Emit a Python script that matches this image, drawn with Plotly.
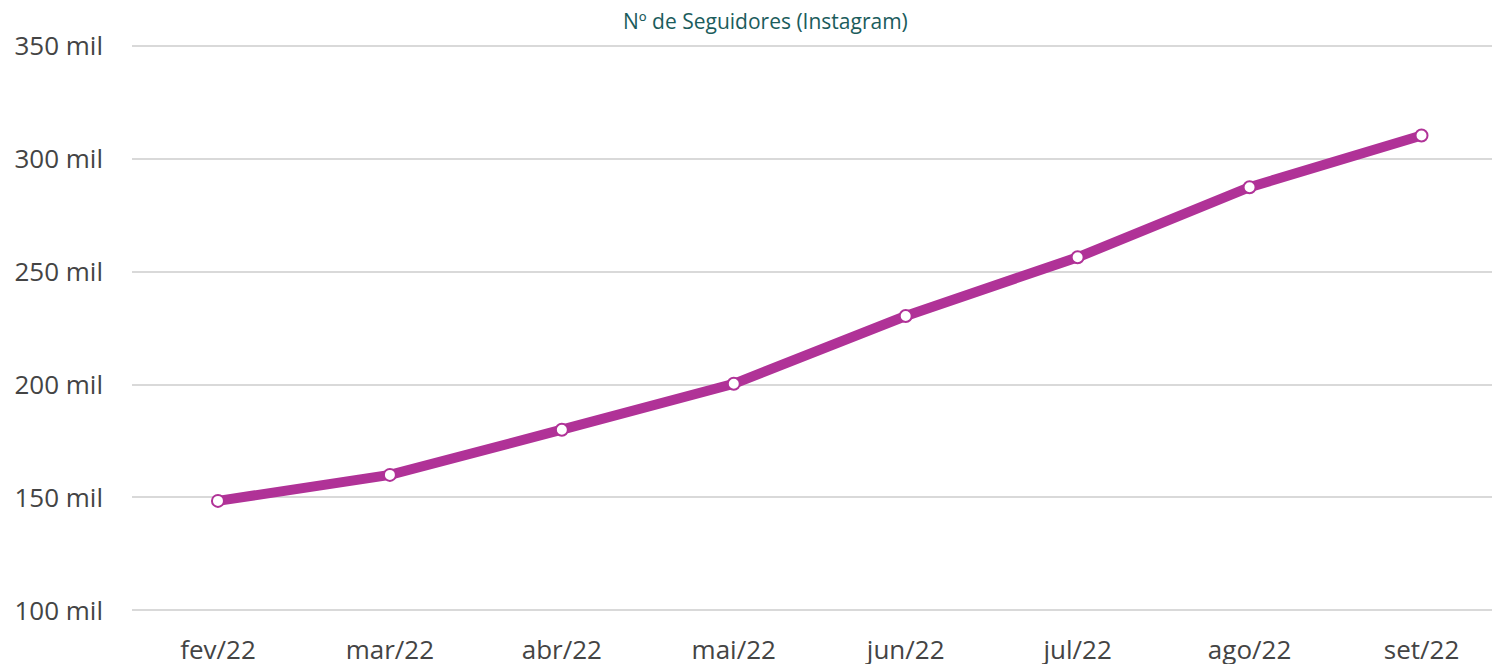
import plotly.graph_objects as go

# followers per month (thousands)
months = ["fev/22", "mar/22", "abr/22", "mai/22", "jun/22", "jul/22", "ago/22", "set/22"]
followers = [148.5, 160, 180, 200.3, 230.3, 256.3, 287.3, 310.2]
y_ticks = [100, 150, 200, 250, 300, 350]
y_labels = ["100 mil", "150 mil", "200 mil", "250 mil", "300 mil", "350 mil"]

fig = go.Figure()
fig.add_trace(go.Scatter(
    x=months, y=followers, mode="lines+markers",
    line=dict(color="#b03297", width=10),
    marker=dict(size=12, color="white", line=dict(color="#b03297", width=2)),
))

fig.update_layout(
    width=1492, height=664,
    margin=dict(l=132, r=0, t=41, b=49),
    plot_bgcolor="white", paper_bgcolor="white",
    font=dict(family="Open Sans", size=26, color="#444444"),
    showlegend=False,
    title=dict(text="Nº de Seguidores (Instagram)", x=0.513, xanchor="center",
               y=0.967, yanchor="middle",
               font=dict(family="Open Sans", size=21, color="#1b5c5c")),
)
fig.update_xaxes(range=[-0.5, 7.41], showgrid=False, showline=False,
                 zeroline=False, ticklabelstandoff=17, automargin=False)
fig.update_yaxes(range=[98, 352], tickvals=y_ticks, ticktext=y_labels,
                 gridcolor="#d9d9d9", gridwidth=2, zeroline=False,
                 showline=False, ticklabelstandoff=28, automargin=False)

# drop the default body margin and scrollbars so the figure fills the window exactly
page_fix = ("document.body.style.margin='0';"
            "document.body.style.overflow='hidden';"
            "document.documentElement.style.overflow='hidden';")
fig.write_html("out.html", post_script=page_fix, config={"displayModeBar": False})
